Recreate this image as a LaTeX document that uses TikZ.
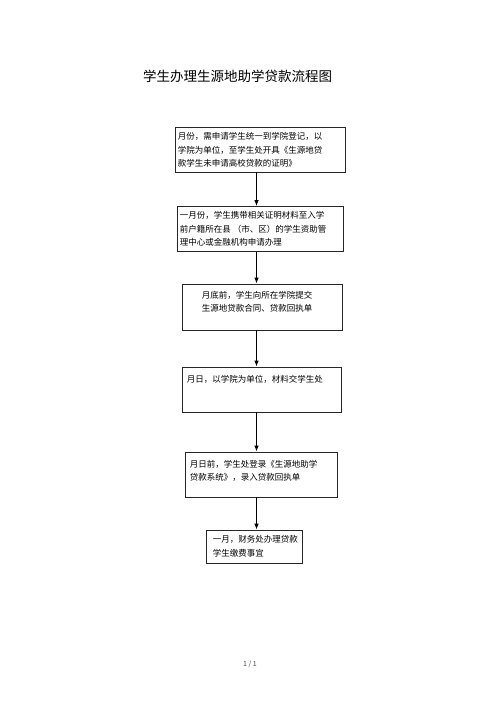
\documentclass[tikz,border=0pt]{standalone}
\usepackage{fontspec}
\newfontfamily\cjk{Noto Sans CJK SC}
\usepackage{tikz}
\usetikzlibrary{positioning,arrows.meta,shadows}

\begin{document}
\begin{tikzpicture}[x=1pt,y=-1pt,%
% common options for boxes:
stepbox/.style = {draw=black!85, line width=0.7pt, fill=white, inner sep=0,
            drop shadow={shadow xshift=0.7pt, shadow yshift=-0.7pt, fill=black!55, opacity=1}},
% common options for the texts:
txt/.style = {align=left, inner sep=0, font=\cjk\fontsize{8.5}{13.5}\selectfont},
% common options for arrows:
arrow/.style = {-{Latex[length=6pt,width=4.5pt]}, line width=0.9pt}]
\useasboundingbox[fill=white] (0,0) rectangle (500,708);

\node[font=\cjk\fontsize{13.5}{16}\selectfont, inner sep=0] (title) at (237.5,76) {学生办理生源地助学贷款流程图};

\node[stepbox, minimum width=170, minimum height=45] (b1) at (260,149.5) {};
\node[stepbox, minimum width=166, minimum height=45] (b2) at (260,229) {};
\node[stepbox, minimum width=160, minimum height=46] (b3) at (262,307) {};
\node[stepbox, minimum width=159, minimum height=45] (b4) at (261.5,389.5) {};
\node[stepbox, minimum width=152, minimum height=45] (b5) at (261,474.5) {};
\node[stepbox, minimum width=96, minimum height=33] (b6) at (254,546.5) {};

\node[txt, below right=5.5pt and 3pt of b1.north west] (t1) {月份，需申请学生统一到学院登记，以\\学院为单位，至学生处开具《生源地贷\\款学生未申请高校贷款的证明》};
\node[txt, below right=5pt and 3pt of b2.north west] (t2) {一月份，学生携带相关证明材料至入学\\前户籍所在县 （市、区）的学生资助管\\理中心或金融机构申请办理};
\node[txt, below right=7pt and 20pt of b3.north west] (t3) {月底前，学生向所在学院提交\\生源地贷款合同、贷款回执单};
\node[txt, below right=8pt and 5pt of b4.north west] (t4) {月日，以学院为单位，材料交学生处};
\node[txt, below right=8pt and 5pt of b5.north west] (t5) {月日前，学生处登录《生源地助学\\贷款系统》，录入贷款回执单};
\node[txt, below right=5.5pt and 7pt of b6.north west] (t6) {一月，财务处办理贷款\\学生缴费事宜};

\coordinate (axis) at (256.5,0);
\draw[arrow] (b1.south -| axis) -- (b2.north -| axis);
\draw[arrow] (b2.south -| axis) -- (b3.north -| axis);
\draw[arrow] (b3.south -| axis) -- (b4.north -| axis);
\draw[arrow] (b4.south -| axis) -- (b5.north -| axis);
\draw[arrow] (b5.south -| axis) -- (b6.north -| axis);

\node[font=\cjk\fontsize{7}{8}\selectfont, text=black!70, inner sep=0] (page) at (250,664) {1 / 1};
\end{tikzpicture}
\end{document}
